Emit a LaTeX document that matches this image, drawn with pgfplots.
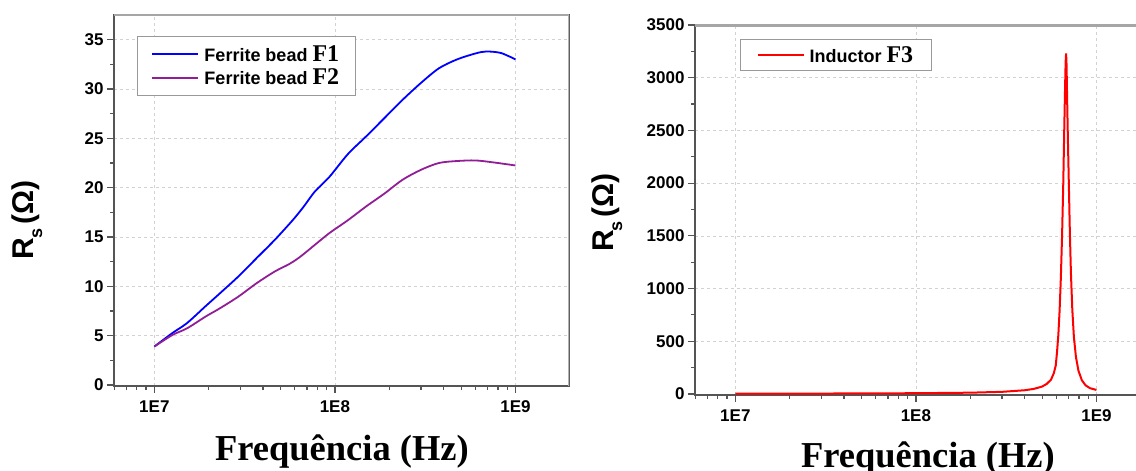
\documentclass[border=0pt]{standalone}
\usepackage{pgfplots}
\pgfplotsset{compat=1.18}
\usepackage{pgfplotstable}
\usepackage{fontspec}
\setmainfont{Liberation Serif}
\setsansfont{Liberation Sans}
\definecolor{fbpurple}{RGB}{145,30,150}
\definecolor{axgray}{RGB}{85,85,85}
\newcommand{\rslabel}{R\kern-1pt\raisebox{-9pt}{\fontsize{18}{18}\selectfont s}\kern4pt(Ω)}

\pgfplotstableread{
f v
1e7 3.9
1.26e7 5.27
1.52e7 6.29
1.92e7 7.98
2.31e7 9.3
2.92e7 11.0
3.68e7 12.85
4.64e7 14.7
5.86e7 16.74
6.73e7 18.1
7.74e7 19.6
9.33e7 21.1
1.18e8 23.4
1.49e8 25.2
1.88e8 27.05
2.37e8 28.9
2.99e8 30.6
3.77e8 32.1
4.75e8 33.0
6.0e8 33.6
6.89e8 33.8
8.3e8 33.65
1e9 33.0
}\ferriteA

\pgfplotstableread{
f v
1e7 3.9
1.26e7 5.07
1.52e7 5.75
1.92e7 6.93
2.31e7 7.78
2.92e7 8.96
3.68e7 10.31
4.64e7 11.5
5.6e7 12.27
6.43e7 13.0
7.74e7 14.2
9.33e7 15.4
1.18e8 16.7
1.49e8 18.1
1.88e8 19.4
2.37e8 20.8
2.99e8 21.8
3.77e8 22.5
4.75e8 22.7
6.0e8 22.76
7.55e8 22.56
1e9 22.25
}\ferriteB

\pgfplotstableread{
f v
1e7 2
2e7 3
5e7 5
1e8 7
2e8 12
3e8 20
4e8 35
4.5e8 48
5.0e8 70
5.3e8 95
5.6e8 135
5.8e8 195
5.95e8 270
6.05e8 400
6.15e8 560
6.25e8 790
6.35e8 1100
6.45e8 1500
6.55e8 2000
6.63e8 2500
6.7e8 2900
6.75e8 3150
6.79e8 3230
6.83e8 3120
6.88e8 2800
6.95e8 2400
7.03e8 2000
7.12e8 1550
7.22e8 1150
7.35e8 800
7.5e8 540
7.7e8 350
7.95e8 220
8.3e8 130
8.7e8 82
9.2e8 55
1e9 38
}\inductor

\begin{document}
\begin{tikzpicture}
\useasboundingbox (0,0) rectangle (1136pt,471pt);

\begin{axis}[
  scale only axis,
  xmode=log, xmin=5.98e6, xmax=1.98e9,
  xtick={1e7,1e8,1e9}, xticklabels={1E7,1E8,1E9},
  minor xtick={6e6,7e6,8e6,9e6,2e7,3e7,4e7,5e7,6e7,7e7,8e7,9e7,2e8,3e8,4e8,5e8,6e8,7e8,8e8,9e8},
  tick pos=left, tick align=outside,
  major tick length=7pt, minor tick length=4pt,
  xmajorgrids, ymajorgrids,
  major grid style={dash pattern=on 3pt off 3pt, gray!35, line width=0.6pt},
  axis line style={axgray, line width=1.6pt},
  tick style={axgray, line width=1.2pt},
  tick label style={font=\sffamily\bfseries\fontsize{17}{17}\selectfont},
  xticklabel style={yshift=-4pt},
  /pgf/number format/assume math mode=true,
  /pgf/number format/set thousands separator={},
  legend cell align=left,
  legend image code/.code={\draw[#1, line width=2pt] (0pt,0pt) -- (46pt,0pt);},
  at={(114pt,85pt)}, anchor=south west,
  width=455pt, height=371pt,
  ymin=-0.1, ymax=37.5,
  ytick={0,5,10,15,20,25,30,35}, minor y tick num=1,
  xlabel={Frequência (Hz)},
  xlabel style={font=\rmfamily\bfseries\fontsize{36.5}{36.5}\selectfont, anchor=base, at={(rel axis cs:0.501,-0.2)}},
  ylabel={\rslabel},
  ylabel style={font=\sffamily\bfseries\fontsize{30}{30}\selectfont, anchor=base, at={(rel axis cs:-0.178,0.447)}},
  legend style={at={(rel axis cs:0.0505,0.943)}, anchor=north west,
    draw=gray!80, line width=1pt, inner xsep=14pt, inner ysep=7pt,
    font=\sffamily\bfseries\fontsize{18}{18}\selectfont,
    nodes={inner xsep=2pt, inner ysep=2pt}, row sep=2pt, column sep=3pt},
]
\addplot[blue, line width=1.8pt, smooth, tension=0.5] table[x=f, y=v] {\ferriteA};
\addlegendentry{Ferrite bead {\rmfamily\bfseries\fontsize{24}{24}\selectfont F1}}
\addplot[fbpurple, line width=1.8pt, smooth, tension=0.5] table[x=f, y=v] {\ferriteB};
\addlegendentry{Ferrite bead {\rmfamily\bfseries\fontsize{24}{24}\selectfont F2}}
\draw[gray!70, line width=3pt] (rel axis cs:0,1) -- (rel axis cs:1,1);
\draw[gray!60, line width=1.5pt] (rel axis cs:1,0) -- (rel axis cs:1,1);
\end{axis}

\begin{axis}[
  scale only axis,
  xmode=log, xmin=5.98e6, xmax=1.98e9,
  xtick={1e7,1e8,1e9}, xticklabels={1E7,1E8,1E9},
  minor xtick={6e6,7e6,8e6,9e6,2e7,3e7,4e7,5e7,6e7,7e7,8e7,9e7,2e8,3e8,4e8,5e8,6e8,7e8,8e8,9e8},
  tick pos=left, tick align=outside,
  major tick length=7pt, minor tick length=4pt,
  xmajorgrids, ymajorgrids,
  major grid style={dash pattern=on 3pt off 3pt, gray!35, line width=0.6pt},
  axis line style={axgray, line width=1.6pt},
  tick style={axgray, line width=1.2pt},
  tick label style={font=\sffamily\bfseries\fontsize{17}{17}\selectfont},
  xticklabel style={yshift=-4pt},
  /pgf/number format/assume math mode=true,
  /pgf/number format/set thousands separator={},
  legend cell align=left,
  legend image code/.code={\draw[#1, line width=2pt] (0pt,0pt) -- (46pt,0pt);},
  at={(695pt,76pt)}, anchor=south west,
  width=455pt, height=370pt,
  ymin=-10, ymax=3500,
  ytick={0,500,1000,1500,2000,2500,3000,3500}, minor y tick num=1,
  xlabel={Frequência (Hz)},
  xlabel style={font=\rmfamily\bfseries\fontsize{36.5}{36.5}\selectfont, anchor=base, at={(rel axis cs:0.512,-0.195)}},
  ylabel={\rslabel},
  ylabel style={font=\sffamily\bfseries\fontsize{30}{30}\selectfont, anchor=base, at={(rel axis cs:-0.18,0.493)}},
  legend style={at={(rel axis cs:0.099,0.962)}, anchor=north west,
    draw=gray!80, line width=1pt, inner xsep=16pt, inner ysep=5pt,
    font=\sffamily\bfseries\fontsize{18}{18}\selectfont,
    nodes={inner xsep=2pt, inner ysep=2pt}, column sep=3pt},
]
\addplot[red, line width=2pt] table[x=f, y=v] {\inductor};
\addlegendentry{Inductor {\rmfamily\bfseries\fontsize{24}{24}\selectfont F3}}
\draw[gray!70, line width=3.5pt] (rel axis cs:0,1) -- (rel axis cs:1,1);
\end{axis}
\end{tikzpicture}
\end{document}
